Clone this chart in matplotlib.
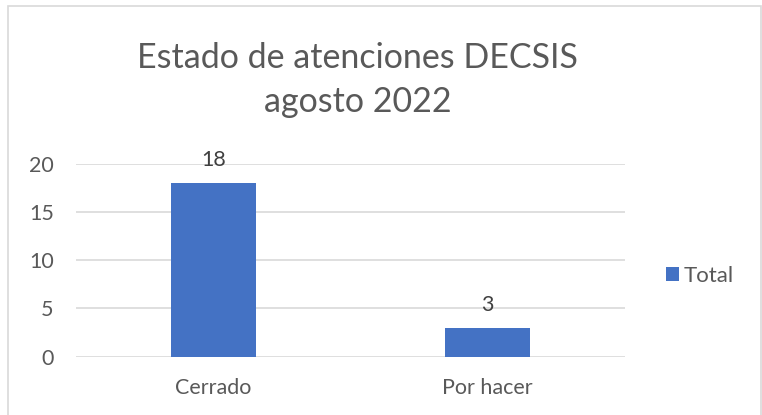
import matplotlib.pyplot as plt
from matplotlib.patches import Rectangle

# data
categories = ["Cerrado", "Por hacer"]
totals = [18, 3]
y_ticks = [0, 5, 10, 15, 20]
title_lines = ["Estado de atenciones DECSIS", "agosto 2022"]

plt.rcParams["font.family"] = ["Lato", "DejaVu Sans"]
text_gray = "#595959"
bar_blue = "#4472C4"
grid_gray = "#D9D9D9"
W, H = 762, 415

fig = plt.figure(figsize=(W / 100, H / 100), dpi=100)

# chart frame
fig.patches.append(Rectangle((8 / W, -0.01), 753 / W, 1 - 6 / H + 0.01,
                             transform=fig.transFigure, fill=False,
                             edgecolor="#D9D9D9", linewidth=1.2))

ax = fig.add_axes([76 / W, 58.3 / H, 549 / W, 193.2 / H])
x = range(len(categories))
ax.bar(x, totals, width=0.31, color=bar_blue, label="Total", zorder=3)

for xi, v in zip(x, totals):
    ax.text(xi, v + 1.35, str(v), ha="center", va="bottom",
            fontsize=15.5, color="#404040")

ax.set_xlim(-0.5, 1.5)
ax.set_ylim(0, 20)
ax.set_yticks(y_ticks)
ax.set_xticks(list(x))
ax.set_xticklabels(categories)
ax.tick_params(axis="both", length=0, labelsize=15.5, labelcolor=text_gray)
ax.tick_params(axis="y", pad=16)
ax.tick_params(axis="x", pad=15)
ax.yaxis.grid(True, color=grid_gray, linewidth=1.2, zorder=0)
for s in ax.spines.values():
    s.set_visible(False)

# title, one baseline per line
fig.text(357.5 / W, 1 - 68 / H, title_lines[0], ha="center", va="baseline",
         fontsize=24.5, color=text_gray)
fig.text(357.5 / W, 1 - 112 / H, title_lines[1], ha="center", va="baseline",
         fontsize=24.5, color=text_gray)

ax.legend(loc="center left", bbox_to_anchor=(666 / W, 1 - 276 / H),
          bbox_transform=fig.transFigure, frameon=False, fontsize=16,
          handlelength=0.6, handleheight=0.6, handletextpad=0.2,
          borderpad=0, borderaxespad=0, labelcolor=text_gray)

fig.savefig("out.png", dpi=100)
